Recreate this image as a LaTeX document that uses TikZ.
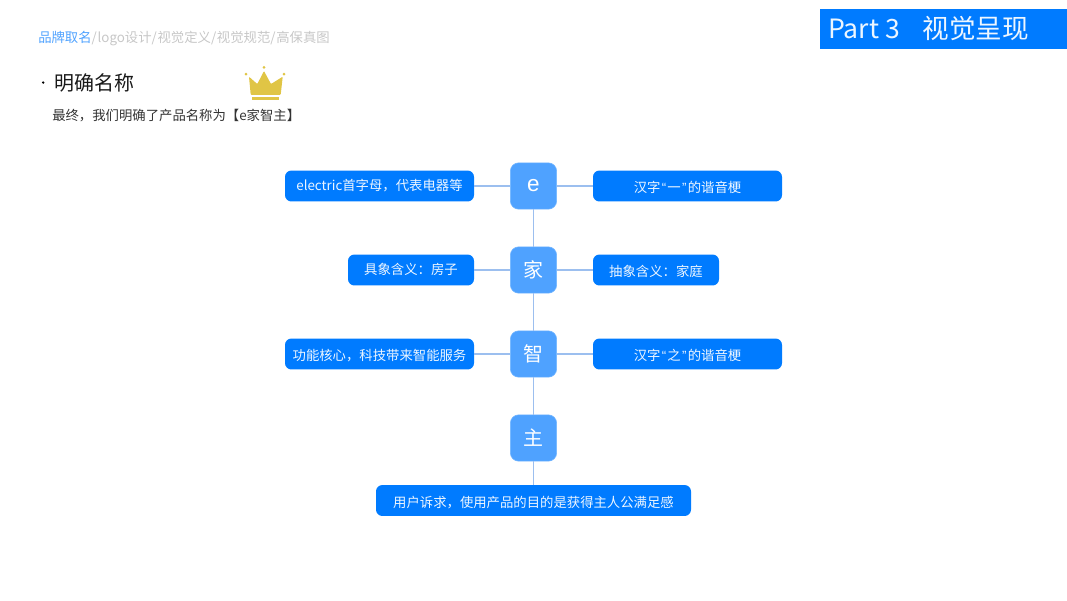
\documentclass[tikz,border=0pt]{standalone}
\usepackage{fontspec}
\setmainfont{Noto Sans CJK SC}
\newfontfamily\latinfont{Liberation Sans}
\definecolor{BoxBlue}{HTML}{007BFF}
\definecolor{KeyBlue}{HTML}{4FA2FF}
\definecolor{LinkBlue}{HTML}{9CBFEF}
\definecolor{CrownGold}{HTML}{E0C545}
\newcommand{\QL}{\kern0.9pt{\latinfont “}\kern0.9pt}
\newcommand{\QR}{\kern0.9pt{\latinfont ”}\kern0.9pt}
\newcommand{\Sl}{/\kern0.5pt}
\tikzset{
  KeyNode/.style={draw=KeyBlue!80!white,fill=KeyBlue,text=white,rounded corners=6pt,
    minimum size=33pt,inner sep=0pt,font=\fontsize{14.2}{16}\selectfont},
  NoteNode/.style={fill=BoxBlue,text=white!93!BoxBlue,rounded corners=4.5pt,minimum height=22pt,
    inner sep=0pt,text height=8pt,text depth=2pt,font=\fontsize{9.5}{12}\selectfont},
  LowNote/.style={NoteNode,text height=10.8pt,text depth=1.2pt},
  LinkLine/.style={draw=LinkBlue,line width=0.9pt},
  PlainText/.style={inner sep=0pt,anchor=west}
}
\begin{document}
\begin{tikzpicture}[x=0.025cm,y=-0.025cm]
    \useasboundingbox (0,0) rectangle (1067,600);

    % header strip
    \fill[BoxBlue] (820,8.5) rectangle (1067,49);
    \node[PlainText,text=white!93!BoxBlue,font=\fontsize{18.9}{22}\selectfont] (PartTitle) at (828,28.5)
        {Part 3\hspace{0.85em}视觉呈现};

    \node[PlainText,font=\fontsize{9.5}{12}\selectfont,text=black!22] (Crumbs) at (38,38.5)
        {\textcolor{KeyBlue}{品牌取名}\Sl logo设计\Sl 视觉定义\Sl 视觉规范\Sl 高保真图};
    \node[PlainText,font=\fontsize{14.2}{18}\selectfont,text=black!90] (Heading) at (54,82.5) {明确名称};
    \node[PlainText,font=\fontsize{9.5}{12}\selectfont,text=black!80] (Intro) at (52,116)
        {最终，我们明确了产品名称为【e家智主】};
    \fill[black] (43.2,82.5) circle (1.3);

    % crown
    \fill[CrownGold,rounded corners=0.6pt] (249,76.7) -- (257.3,84) -- (264,71) -- (271,84) -- (282.7,76.7)
        -- (280.7,94.8) -- (250.7,94.8) -- cycle;
    \fill[CrownGold] (251.7,97.3) rectangle (279.3,99.5);
    \foreach \x/\y in {246/74,264/67.3,284/74}{
      \fill[CrownGold] (\x,\y) circle (1.5);
    }

    % the four keys
    \foreach \name/\txt/\y in {E/{\fontsize{16}{16}\selectfont\latinfont\raisebox{-4.2pt}[0pt][0pt]{e}}/186,Jia/家/270,Zhi/智/354,Zhu/主/438}{
      \node[KeyNode] (\name) at (533.5,\y) {\txt};
    }

    \node[NoteNode,minimum width=134.4pt] (ENoteL) at (379.5,186) {electric首字母，代表电器等};
    \node[LowNote,minimum width=134.4pt] (ENoteR) at (687.5,186) {汉字\QL 一\QR 的谐音梗};
    \node[NoteNode,minimum width=89.6pt] (JiaNoteL) at (411,270) {具象含义：房子};
    \node[LowNote,minimum width=89.6pt] (JiaNoteR) at (656,270) {抽象含义：家庭};
    \node[LowNote,minimum width=134.4pt] (ZhiNoteL) at (379.5,354) {功能核心，科技带来智能服务};
    \node[LowNote,minimum width=134.4pt] (ZhiNoteR) at (687.5,354) {汉字\QL 之\QR 的谐音梗};
    \node[LowNote,minimum width=224pt] (ZhuNote) at (533.5,500.5) {用户诉求，使用产品的目的是获得主人公满足感};

    \draw[LinkLine] (E) -- (Jia);
    \draw[LinkLine] (Jia) -- (Zhi);
    \draw[LinkLine] (Zhi) -- (Zhu);
    \draw[LinkLine] (Zhu) -- (ZhuNote);
    \foreach \a/\b in {E/ENoteL,Jia/JiaNoteL,Zhi/ZhiNoteL,E/ENoteR,Jia/JiaNoteR,Zhi/ZhiNoteR}{
      \draw[LinkLine] (\a) -- (\b);
    }
\end{tikzpicture}
\end{document}
